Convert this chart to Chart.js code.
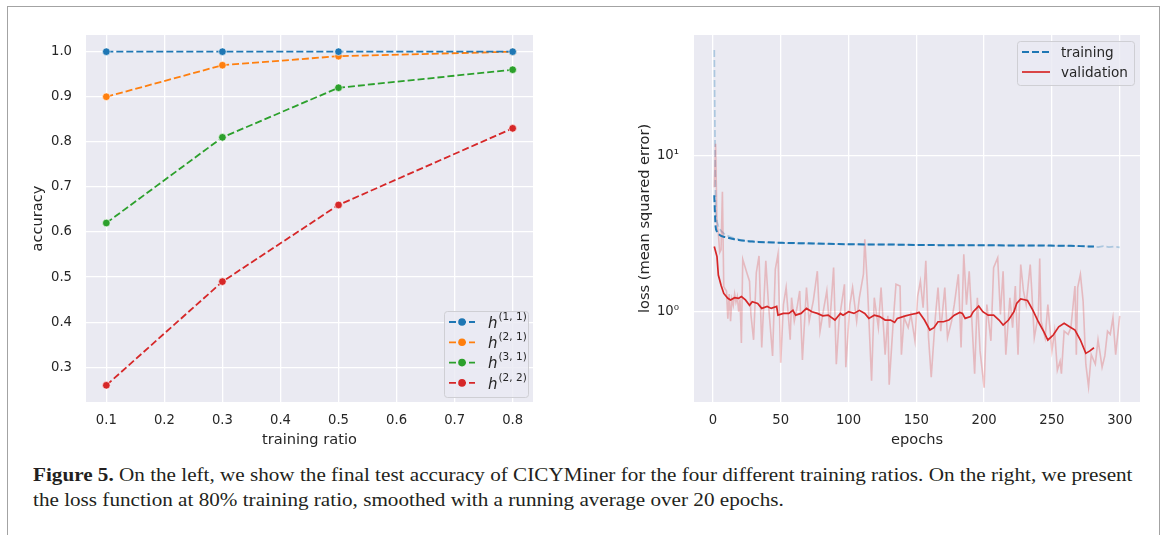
<!DOCTYPE html>
<html>
<head>
<meta charset="utf-8">
<script src="https://cdn.jsdelivr.net/npm/chart.js@4.4.0/dist/chart.umd.min.js"></script>
<style>
    html, body { margin: 0; padding: 0; background: #fff; width: 1167px; height: 535px; overflow: hidden; }
    #frame { position: absolute; left: 7px; top: 6px; width: 1153px; height: 560px; border: 1px solid #a3a3a3; box-sizing: border-box; }
    #leftBox { position: absolute; left: 0; top: 0; width: 580px; height: 460px; }
    #rightBox { position: absolute; left: 600px; top: 0; width: 567px; height: 460px; }
    .caption { position: absolute; left: 33px; font-family: "Liberation Serif", serif; font-size: 19px; line-height: 25px; color: #231f20; white-space: nowrap; transform-origin: 0 0; }
</style>
</head>
<body>
<div id="frame"></div>
<div id="leftBox"><canvas id="accuracyChart"></canvas></div>
<div id="rightBox"><canvas id="lossChart"></canvas></div>
<div class="caption" id="cap1" style="top:462px"><b>Figure 5.</b> On the left, we show the final test accuracy of CICYMiner for the four different training ratios. On the right, we present</div>
<div class="caption" id="cap2" style="top:487px">the loss function at 80% training ratio, smoothed with a running average over 20 epochs.</div>

<script>
// Left panel: final test accuracy per training ratio
const trainingRatios = [0.1, 0.3, 0.5, 0.8];
const accH11 = [1.00, 1.00, 1.00, 1.00];
const accH21 = [0.90, 0.97, 0.99, 1.00];
const accH31 = [0.62, 0.81, 0.92, 0.96];
const accH22 = [0.26, 0.49, 0.66, 0.83];
const hodgeLabels = ['(1, 1)', '(2, 1)', '(3, 1)', '(2, 2)'];
const ratioTicks = [0.1, 0.2, 0.3, 0.4, 0.5, 0.6, 0.7, 0.8];
const accuracyTicks = [0.3, 0.4, 0.5, 0.6, 0.7, 0.8, 0.9, 1.0];

// Right panel: loss per epoch (raw and 20-epoch running average)
const trainRawEpochs = [1, 2, 3, 4, 5, 6, 8, 10, 13, 16, 20, 25, 30, 40, 50, 60, 75, 100, 125, 150,
    175, 200, 225, 250, 270, 280, 284, 288, 292, 296, 300];
const trainRawLoss = [48, 4.3, 3.8, 3.55, 3.4, 3.3, 3.18, 3.1, 3.02, 2.96, 2.9, 2.86, 2.83, 2.79, 2.77, 2.75, 2.73, 2.71, 2.70, 2.69,
    2.68, 2.67, 2.66, 2.65, 2.64, 2.62, 2.60, 2.64, 2.60, 2.62, 2.59];

const valRawEpochs = [1, 2, 3, 4, 5, 6, 7, 8, 9, 10, 11, 12, 13, 14, 15, 16, 17, 18, 19, 20, 21, 22,
    25, 27, 28, 30, 32, 34, 36, 39, 41, 44,
    46, 48, 50, 52, 54, 57, 58, 60, 62, 64,
    66, 69, 71, 74, 77, 79, 81, 84, 86, 89,
    91, 93, 97, 98, 101, 103, 106, 108, 111, 112,
    114, 117, 119, 122, 124, 127, 129, 130, 133, 135,
    138, 139, 141, 144, 146, 149, 151, 153, 155, 157,
    159, 161, 164, 166, 168, 171, 173, 176, 178, 181,
    183, 185, 187, 189, 191, 193, 195, 197, 200, 202,
    205, 207, 210, 212, 214, 216, 219, 221, 223, 225,
    227, 229, 231, 234, 235, 237, 240, 241, 242, 245,
    247, 250, 252, 254, 256, 257, 259, 262, 264, 267,
    268, 269, 271, 273, 275, 277, 279, 282, 284, 287,
    289, 291, 293, 295, 297, 300];
const valRawLoss = [6.3, 12.0, 3.6, 3.2, 2.4, 2.5, 5.9, 1.45, 1.4, 1.36, 0.9, 1.3, 0.87, 1.2, 1.1, 1.3, 1.15, 1.25, 1.0, 1.2, 0.63, 2.17,
    1.78, 1.57, 0.96, 0.66, 1.78, 2.28, 0.59, 2.12, 1.11, 0.52,
    1.87, 2.34, 0.47, 1.11, 1.43, 0.66, 1.23, 0.87, 1.06, 1.36,
    0.49, 1.43, 0.87, 1.17, 1.82, 0.75, 0.96, 1.36, 0.79, 1.92,
    0.46, 0.87, 1.50, 0.44, 1.11, 1.43, 0.87, 1.23, 1.74, 2.92,
    1.43, 0.36, 1.23, 0.79, 1.43, 0.53, 0.94, 0.34, 0.87, 1.50,
    1.46, 0.53, 0.915, 0.79, 0.96, 0.65, 1.26, 1.57, 1.06, 2.12,
    0.68, 0.38, 0.915, 1.43, 0.75, 1.43, 0.68, 0.87, 1.11, 1.74,
    0.59, 2.34, 1.11, 1.82, 0.87, 0.40, 1.23, 0.56, 0.325, 1.11,
    0.65, 1.92, 2.22, 0.96, 1.82, 0.53, 1.23, 0.79, 1.46, 0.53,
    2.01, 1.36, 1.11, 2.01, 1.43, 0.68, 0.96, 2.20, 0.87, 0.68,
    1.11, 0.56, 0.75, 0.42, 0.48, 0.40, 0.75, 0.715, 0.79, 1.46,
    0.53, 1.43, 1.74, 1.17, 0.46, 0.33, 0.53, 0.46, 0.66, 0.44,
    0.52, 0.75, 0.715, 0.915, 0.53, 0.94];

const trainAvgEpochs = [1, 2, 3, 5, 8, 11, 15, 19, 24, 29, 40, 51, 77, 104, 130, 158, 200, 238, 264, 275, 281];
const trainAvgLoss = [5.6, 3.52, 3.27, 3.11, 3.03, 2.99, 2.93, 2.89, 2.85, 2.82, 2.79, 2.77, 2.74, 2.71, 2.70, 2.68, 2.67, 2.66, 2.65, 2.63, 2.62];

const valAvgEpochs = [1, 3, 4, 6, 8, 11, 13, 16, 19, 21, 24, 27, 29, 33, 36, 40, 43, 47, 48, 52,
    56, 59, 61, 65, 69, 73, 77, 81, 85, 90, 94, 96, 100, 104, 108, 112, 115, 119, 123, 127,
    131, 134, 136, 142, 146, 150, 152, 156, 160, 163, 166, 170, 174, 178, 182, 184, 186, 190, 192, 196,
    199, 203, 207, 211, 214, 218, 222, 224, 227, 232, 236, 240, 244, 247, 251, 255, 259, 263, 267, 271,
    275, 278, 281];
const valAvgLoss = [2.62, 2.26, 1.72, 1.48, 1.31, 1.22, 1.19, 1.23, 1.22, 1.25, 1.19, 1.10, 1.16, 1.13, 1.05, 1.08, 1.05, 1.08, 0.95, 0.975,
    0.975, 1.02, 0.95, 0.975, 1.05, 1.0, 0.975, 0.94, 0.95, 0.884, 0.975, 0.95, 1.0, 0.975, 1.02, 0.975, 0.906, 0.95, 0.93, 0.884,
    0.884, 0.854, 0.906, 0.94, 0.96, 0.975, 0.99, 0.884, 0.763, 0.79, 0.862, 0.862, 0.884, 0.95, 0.99, 0.975, 0.906, 0.93, 1.0, 1.087,
    1.0, 0.95, 0.95, 0.884, 0.821, 0.884, 1.0, 1.13, 1.206, 1.18, 1.02, 0.862, 0.744, 0.658, 0.708, 0.80, 0.842, 0.80, 0.763, 0.658,
    0.54, 0.56, 0.587];

const epochTicks = [0, 50, 100, 150, 200, 250, 300];
const lossTicks = [1, 10];

// Colours (matplotlib tab10 on seaborn darkgrid)
const BLUE = '#1f77b4', ORANGE = '#ff7f0e', GREEN = '#2ca02c', RED = '#d62728';
const TEXT = '#262626';
const FACE = '#eaeaf2';

Chart.defaults.font.family = '"DejaVu Sans", sans-serif';
Chart.defaults.color = TEXT;

function toPoints(xs, ys) {
    return xs.map((x, i) => ({ x: x, y: ys[i] }));
}

const tickFont = { size: 13.2 };
const titleFont = { size: 14.6 };

// Fills the plot area like seaborn's darkgrid style
const plotBackground = {
    id: 'plotBackground',
    beforeDraw(chart) {
        const { ctx, chartArea: a } = chart;
        ctx.save();
        ctx.fillStyle = FACE;
        ctx.fillRect(a.left, a.top, a.right - a.left, a.bottom - a.top);
        ctx.restore();
    }
};

// Matplotlib-like legend box with optional math superscripts
const boxLegend = {
    id: 'boxLegend',
    afterDatasetsDraw(chart, args, opts) {
        const { ctx, chartArea: a } = chart;
        const left = a.right - opts.inset - opts.width;
        const top = opts.corner === 'upper' ? a.top + opts.inset : a.bottom - opts.inset - opts.height;
        ctx.save();
        ctx.beginPath();
        ctx.roundRect(left + 0.5, top + 0.5, opts.width, opts.height, 3);
        ctx.fillStyle = 'rgba(234,234,242,0.8)';
        ctx.fill();
        ctx.strokeStyle = '#cfcfd4';
        ctx.lineWidth = 1;
        ctx.stroke();

        opts.items.forEach((item, i) => {
            const ds = chart.data.datasets[item.dataset];
            const y = top + 11 + i * opts.rowStep;
            ctx.strokeStyle = ds.borderColor;
            ctx.lineWidth = ds.borderWidth;
            ctx.setLineDash(ds.borderDash || []);
            ctx.beginPath();
            ctx.moveTo(left + 5, y);
            ctx.lineTo(left + 5 + opts.sampleLen, y);
            ctx.stroke();
            ctx.setLineDash([]);
            if (ds.pointRadius) {
                ctx.fillStyle = ds.borderColor;
                ctx.beginPath();
                ctx.arc(left + 5 + opts.sampleLen / 2, y, ds.pointRadius, 0, 2 * Math.PI);
                ctx.fill();
            }
            ctx.fillStyle = TEXT;
            ctx.textAlign = 'left';
            ctx.textBaseline = 'middle';
            if (item.sup) {
                ctx.font = 'italic 15px "DejaVu Sans"';
                ctx.fillText(item.text, left + 44, y + 2);
                const w = ctx.measureText(item.text).width;
                ctx.font = '10.5px "DejaVu Sans"';
                ctx.fillText(item.sup, left + 44 + w + 1, y - 5);
            } else {
                ctx.font = '13.6px "DejaVu Sans"';
                ctx.fillText(item.text, left + 44, y + 1);
            }
        });
        ctx.restore();
    }
};

function gridOptions() {
    return { color: '#ffffff', lineWidth: 1.3, drawTicks: false };
}

function initializeAccuracyChart() {
    const ctx = document.getElementById('accuracyChart');
    const series = [accH11, accH21, accH31, accH22];
    const colors = [BLUE, ORANGE, GREEN, RED];

    new Chart(ctx, {
        type: 'line',
        data: {
            datasets: series.map((values, i) => ({
                label: 'h' + hodgeLabels[i],
                data: toPoints(trainingRatios, values),
                borderColor: colors[i],
                backgroundColor: colors[i],
                borderWidth: 1.8,
                borderDash: [7, 3],
                pointRadius: 3.8,
                pointBackgroundColor: colors[i],
                pointBorderColor: '#ffffff',
                pointBorderWidth: 0.6,
                tension: 0
            }))
        },
        options: {
            responsive: true,
            maintainAspectRatio: false,
            animation: false,
            devicePixelRatio: 1,
            layout: { padding: { top: 35, right: 47, bottom: 0, left: 0 } },
            scales: {
                x: {
                    type: 'linear',
                    min: 0.065,
                    max: 0.835,
                    afterBuildTicks: scale => { scale.ticks = ratioTicks.map(v => ({ value: v })); },
                    afterFit: scale => { scale.height = 58; },
                    grid: gridOptions(),
                    border: { display: false },
                    ticks: { font: tickFont, color: TEXT, padding: 11, callback: v => v.toFixed(1) },
                    title: { display: true, text: 'training ratio', font: titleFont, color: TEXT, padding: { top: 0, bottom: 11 } }
                },
                y: {
                    type: 'linear',
                    min: 0.223,
                    max: 1.037,
                    afterBuildTicks: scale => { scale.ticks = accuracyTicks.map(v => ({ value: v })); },
                    afterFit: scale => { scale.width = 86; },
                    grid: gridOptions(),
                    border: { display: false },
                    ticks: { font: tickFont, color: TEXT, padding: 14, callback: v => v.toFixed(1) },
                    title: { display: true, text: 'accuracy', font: titleFont, color: TEXT, padding: { top: 29, bottom: 0 } }
                }
            },
            plugins: {
                legend: { display: false },
                tooltip: { enabled: false },
                boxLegend: {
                    corner: 'lower',
                    inset: 5,
                    width: 84,
                    height: 86,
                    rowStep: 20.3,
                    sampleLen: 26,
                    items: hodgeLabels.map((sup, i) => ({ dataset: i, text: 'h', sup: sup }))
                }
            }
        },
        plugins: [plotBackground, boxLegend]
    });
}

function initializeLossChart() {
    const ctx = document.getElementById('lossChart');

    new Chart(ctx, {
        type: 'line',
        data: {
            datasets: [{
                label: 'training (raw)',
                data: toPoints(trainRawEpochs, trainRawLoss),
                borderColor: 'rgba(31,119,180,0.3)',
                borderWidth: 1.7,
                borderDash: [7, 3],
                pointRadius: 0,
                order: 3
            }, {
                label: 'validation (raw)',
                data: toPoints(valRawEpochs, valRawLoss),
                borderColor: 'rgba(214,39,40,0.25)',
                borderWidth: 1.6,
                pointRadius: 0,
                order: 2
            }, {
                label: 'training',
                data: toPoints(trainAvgEpochs, trainAvgLoss),
                borderColor: BLUE,
                borderWidth: 2,
                borderDash: [7, 3],
                pointRadius: 0,
                cubicInterpolationMode: 'monotone',
                order: 1
            }, {
                label: 'validation',
                data: toPoints(valAvgEpochs, valAvgLoss),
                borderColor: RED,
                borderWidth: 1.7,
                pointRadius: 0,
                order: 0
            }]
        },
        options: {
            responsive: true,
            maintainAspectRatio: false,
            animation: false,
            devicePixelRatio: 1,
            layout: { padding: { top: 35, right: 27, bottom: 0, left: 0 } },
            scales: {
                x: {
                    type: 'linear',
                    min: -13.95,
                    max: 314.95,
                    afterBuildTicks: scale => { scale.ticks = epochTicks.map(v => ({ value: v })); },
                    afterFit: scale => { scale.height = 58; },
                    grid: gridOptions(),
                    border: { display: false },
                    ticks: { font: tickFont, color: TEXT, padding: 11 },
                    title: { display: true, text: 'epochs', font: titleFont, color: TEXT, padding: { top: 0, bottom: 11 } }
                },
                y: {
                    type: 'logarithmic',
                    min: 0.263,
                    max: 59.9,
                    afterBuildTicks: scale => { scale.ticks = lossTicks.map(v => ({ value: v })); },
                    afterFit: scale => { scale.width = 94; },
                    grid: gridOptions(),
                    border: { display: false },
                    ticks: { font: tickFont, color: TEXT, padding: 15, callback: v => (v === 10 ? '10\u00b9' : '10\u2070') },
                    title: { display: true, text: 'loss (mean squared error)', font: titleFont, color: TEXT, padding: { top: 36, bottom: 0 } }
                }
            },
            plugins: {
                legend: { display: false },
                tooltip: { enabled: false },
                boxLegend: {
                    corner: 'upper',
                    inset: 6,
                    width: 117,
                    height: 44,
                    rowStep: 20,
                    sampleLen: 28,
                    items: [{ dataset: 2, text: 'training' }, { dataset: 3, text: 'validation' }]
                }
            }
        },
        plugins: [plotBackground, boxLegend]
    });
}

// Squeeze the serif caption to the width of the original typesetting
function fitCaption() {
    const first = document.getElementById('cap1');
    const second = document.getElementById('cap2');
    const factor = 1100 / first.scrollWidth;
    first.style.transform = 'scaleX(' + factor + ')';
    second.style.transform = 'scaleX(' + factor + ')';
}

initializeAccuracyChart();
initializeLossChart();
fitCaption();
</script>
</body>
</html>
